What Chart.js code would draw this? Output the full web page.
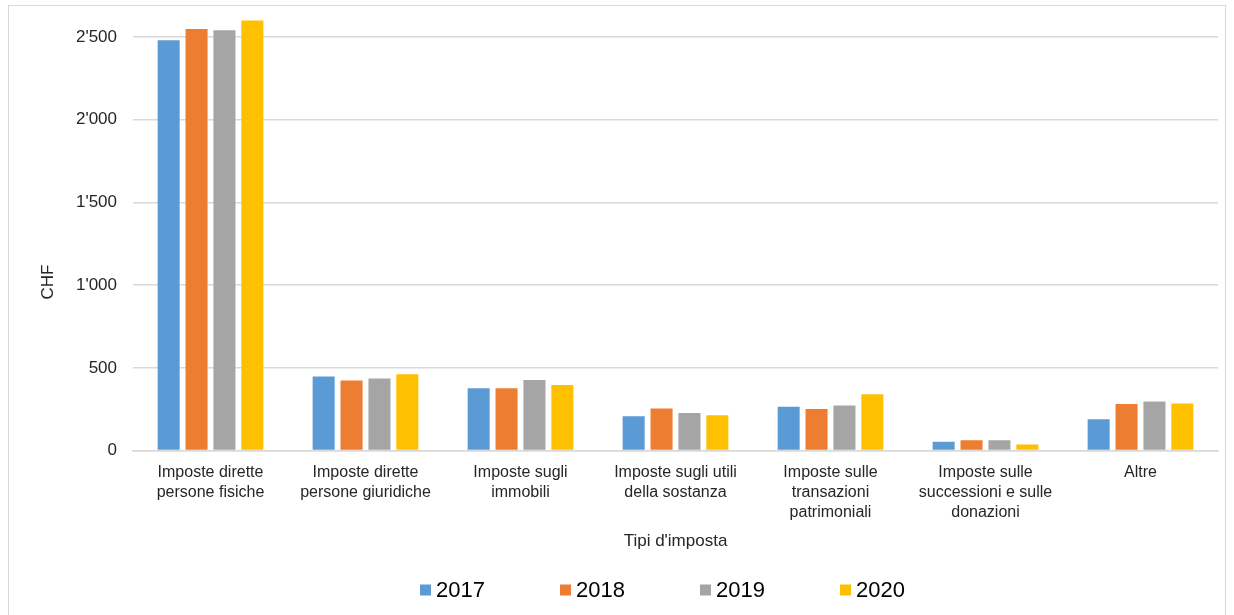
<!DOCTYPE html>
<html>
<head>
<meta charset="utf-8">
<script src="https://cdn.jsdelivr.net/npm/chart.js@4/dist/chart.umd.min.js"></script>
<style>
  html, body { margin: 0; padding: 0; background: #fff; }
  #wrap { width: 1234px; height: 615px; }
</style>
</head>
<body>
<div id="wrap"><canvas id="chart"></canvas></div>
<script>
// categorie (etichette asse x, su più righe)
const categories = [
    ['Imposte dirette', 'persone fisiche'],
    ['Imposte dirette', 'persone giuridiche'],
    ['Imposte sugli', 'immobili'],
    ['Imposte sugli utili', 'della sostanza'],
    ['Imposte sulle', 'transazioni', 'patrimoniali'],
    ['Imposte sulle', 'successioni e sulle', 'donazioni'],
    ['Altre']
];

const years = ['2017', '2018', '2019', '2020'];

// valori in CHF
const values2017 = [2480, 448, 376, 207, 265, 53, 189];
const values2018 = [2547, 424, 376, 255, 251, 63, 281];
const values2019 = [2539, 436, 426, 227, 273, 63, 297];
const values2020 = [2599, 462, 396, 214, 340, 37, 285];

const yTicks = [0, 500, 1000, 1500, 2000, 2500];

const colors = ['#5B9BD5', '#ED7D31', '#A5A5A5', '#FFC000'];
const FONT = 'Liberation Sans, Arial, sans-serif';

const formatCHF = (v) => String(v).replace(/\B(?=(\d{3})+(?!\d))/g, "'");

// cornice esterna + titolo asse y + legenda
const extrasPlugin = {
    id: 'extras',
    beforeDraw(chart) {
        const ctx = chart.ctx;
        ctx.save();
        ctx.strokeStyle = '#d9d9d9';
        ctx.lineWidth = 1;
        ctx.strokeRect(8.5, 5.5, chart.width - 17, chart.height + 10);
        ctx.restore();
    },
    afterDraw(chart) {
        const ctx = chart.ctx;
        const area = chart.chartArea;
        const xScale = chart.scales.x;

        // titolo asse y
        ctx.save();
        ctx.fillStyle = '#262626';
        ctx.font = '17px ' + FONT;
        ctx.textAlign = 'center';
        ctx.textBaseline = 'middle';
        ctx.translate(area.left - 85, (area.top + xScale.bottom) / 2);
        ctx.rotate(-Math.PI / 2);
        ctx.fillText('CHF', 0, 0);
        ctx.restore();

        // legenda
        ctx.save();
        ctx.font = '22px ' + FONT;
        ctx.textBaseline = 'middle';
        ctx.textAlign = 'left';
        const y = chart.height - 25;
        let x = area.left + 287;
        chart.data.datasets.forEach(ds => {
            ctx.fillStyle = ds.backgroundColor;
            ctx.fillRect(x, y - 5.5, 11, 11);
            ctx.fillStyle = '#000';
            ctx.fillText(ds.label, x + 16, y + 1);
            x += 140;
        });
        ctx.restore();
    }
};

const datasets = [values2017, values2018, values2019, values2020].map((vals, i) => ({
    label: years[i],
    data: vals,
    backgroundColor: colors[i],
    borderWidth: 0,
    categoryPercentage: 0.72,
    barPercentage: 0.79
}));

new Chart(document.getElementById('chart'), {
    type: 'bar',
    data: { labels: categories, datasets },
    plugins: [extrasPlugin],
    options: {
        responsive: true,
        maintainAspectRatio: false,
        animation: false,
        layout: {
            autoPadding: false,
            padding: { left: 8, right: 16, top: 12, bottom: 63 }
        },
        plugins: {
            legend: { display: false },
            tooltip: { enabled: false }
        },
        scales: {
            x: {
                grid: { display: false },
                border: { display: true, color: '#d9d9d9', width: 1.5 },
                ticks: {
                    color: '#262626',
                    font: { family: FONT, size: 16, lineHeight: 1.25 },
                    maxRotation: 0,
                    autoSkip: false,
                    padding: 4
                },
                title: {
                    display: true,
                    text: "Tipi d'imposta",
                    color: '#262626',
                    font: { family: FONT, size: 17 },
                    padding: { top: 5, bottom: 0 }
                }
            },
            y: {
                min: 0,
                max: 2650,
                afterBuildTicks: (scale) => {
                    scale.ticks = yTicks.map(v => ({ value: v }));
                },
                afterFit: (scale) => { scale.width = 125; },
                grid: {
                    color: '#d9d9d9',
                    lineWidth: 1.5,
                    drawTicks: true,
                    tickLength: 16,
                    tickColor: 'rgba(0,0,0,0)'
                },
                border: { display: false },
                ticks: {
                    color: '#262626',
                    font: { family: FONT, size: 17 },
                    padding: 0,
                    callback: (v) => formatCHF(v)
                }
            }
        }
    }
});
</script>
</body>
</html>
